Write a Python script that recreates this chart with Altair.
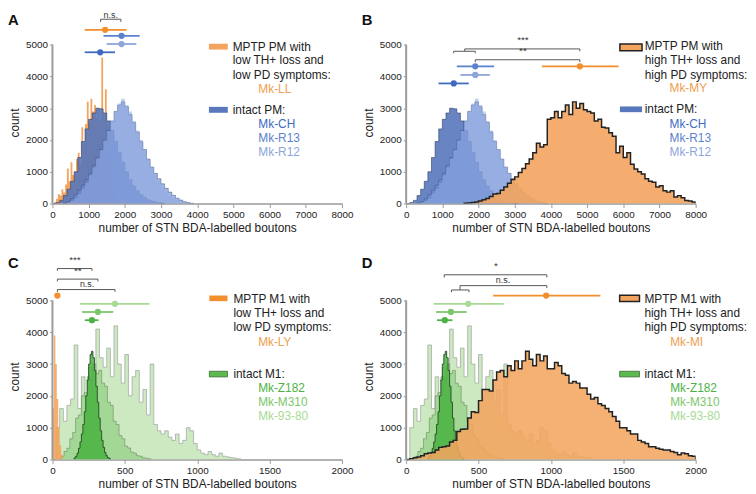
import altair as alt
import pandas as pd

FONT = "Liberation Sans"
XTITLE = "number of STN BDA-labelled boutons"

# ---------------- colours ----------------
ORANGE = "#F28E2B"
ORANGE_FILL = "#F3A45E"
ORANGE_TXT = "#F0A050"
CH_C, R13_C, R12_C = "#3E6BBF", "#5B82CC", "#8DA5DB"
Z182_C, M310_C, M9380_C = "#4DB346", "#7CC76C", "#A9DA95"

# ---------------- histogram data: bin start, bin width, counts ----------------
# intact PM animals (panels A and B)
CH_START, CH_W = 0, 100
CH_COUNTS = [0, 30, 100, 250, 450, 700, 1000, 1450, 1950, 2350, 2650, 2850, 3000, 2980, 2850,
             2600, 2300, 1950, 1600, 1300, 1000, 750, 550, 400, 280, 190, 120, 80, 50, 30, 15]
R13_START, R13_W = 300, 100
R13_COUNTS = [20, 60, 150, 280, 420, 580, 750, 950, 1200, 1450, 1700, 2000, 2300, 2600, 2900,
              3100, 3200, 3050, 2800, 2550, 2250, 1950, 1700, 1400, 1150, 950, 780, 620, 480,
              360, 260, 170, 110, 60, 30, 10]
R12_START, R12_W = 400, 100
R12_COUNTS = [30, 80, 170, 300, 460, 650, 880, 1130, 1400, 1680, 1980, 2280, 2580, 2850, 3150,
              3300, 3100, 2900, 2600, 2300, 2000, 1700, 1400, 1150, 900, 700, 520, 380, 270,
              180, 110, 60, 30, 10]
# Mk-LL (panel A)
LL_START, LL_W = 0, 50
LL_COUNTS = [0, 50, 150, 300, 250, 450, 350, 600, 1100, 700, 1300, 900, 1000, 1400, 1600, 1200,
             2400, 1900, 2500, 3200, 2600, 3300, 2900, 3100, 2700, 3000, 2600, 4600, 2800, 3600,
             2500, 2200, 1500, 800, 300]
# Mk-MY (panel B)
MY_START, MY_W = 1600, 100
MY_COUNTS = [10, 20, 30, 50, 80, 120, 160, 220, 300, 320, 420, 520, 640, 760, 840, 980, 1100,
             1250, 1400, 1600, 1900, 1780, 1850, 2650, 2700, 2900, 2700, 2900, 3100, 2800, 3200,
             3000, 3150, 2950, 2900, 2850, 2600, 2650, 2400, 2380, 2230, 2120, 1600, 1800, 1450,
             1600, 1240, 1090, 1000, 930, 780, 700, 670, 520, 560, 400, 360, 400, 210, 250, 180,
             100, 80, 50]
# intact M1 animals (panels C and D)
Z182_START, Z182_W = 150, 10
Z182_COUNTS = [50, 100, 200, 350, 550, 800, 1100, 1500, 2000, 2500, 3000, 3300, 3400, 3200, 2800,
               2300, 1800, 1300, 900, 600, 380, 220, 120, 60, 30]
M310_START, M310_W = 60, 20
M310_COUNTS = [100, 250, 350, 650, 850, 1300, 1400, 2000, 2100, 2600, 2500, 3000, 2700, 2800, 2400,
               2300, 1800, 1700, 1200, 1100, 750, 650, 420, 360, 230, 200, 120, 100, 50, 40, 20]
M9380_START, M9380_W = 0, 25
M9380_COUNTS = [0, 1000, 1600, 1200, 1700, 1900, 3600, 1600, 2600, 1900, 2900, 2200, 4100, 3200,
                2900, 3500, 2600, 4200, 3000, 2400, 3300, 2000, 2600, 2800, 1800, 2200, 1400, 3000,
                1100, 900, 800, 900, 700, 600, 800, 500, 600, 1000, 900, 500, 300, 200, 150, 250,
                150, 100, 200, 100, 80, 60, 40, 20]
# Mk-LY (panel C)
LY_START, LY_W = 0, 10
LY_COUNTS = [1600, 3900, 3000, 1900, 1000, 450, 150]
# Mk-MI (panel D)
MI_START, MI_W = 0, 25
MI_COUNTS = [0, 20, 50, 80, 120, 180, 200, 220, 300, 380, 400, 420, 550, 600, 880, 950, 960, 1300,
             1500, 1480, 1850, 2200, 2200, 2150, 2500, 2750, 2800, 2600, 2950, 2800, 3100, 2850,
             3100, 3400, 3150, 2950, 3300, 3100, 3250, 2850, 2850, 3050, 2950, 2700, 2650, 2400,
             2450, 2400, 2250, 2250, 2050, 1900, 1950, 1750, 1700, 1600, 1500, 1350, 1200, 1000,
             1000, 900, 800, 800, 600, 550, 500, 400, 400, 350, 320, 300, 300, 250, 220, 150, 200,
             180, 120, 100]

# ---------------- mean +/- SD summaries ----------------
A_NAMES = ["Mk-LL", "Mk-R13", "Mk-R12", "Mk-CH"]
A_MEAN = [1456, 1909, 1909, 1320]
A_LO = [892, 1410, 1500, 892]
A_HI = [2046, 2410, 2318, 1728]
A_ROW = [5466, 5280, 5020, 4760]
A_COL = [ORANGE, R13_C, R12_C, CH_C]

B_NAMES = ["Mk-MY", "Mk-R13", "Mk-R12", "Mk-CH"]
B_MEAN = [4800, 1910, 1910, 1316]
B_LO = [3750, 1400, 1500, 895]
B_HI = [5870, 2430, 2313, 1730]
B_ROW = [4317, 4317, 4047, 3780]
B_COL = [ORANGE, R13_C, R12_C, CH_C]

C_NAMES = ["Mk-LY", "Mk-93-80", "Mk-M310", "Mk-Z182"]
C_MEAN = [34, 432, 314, 273]
C_LO = [30, 189, 205, 223]
C_HI = [38, 670, 420, 318]
C_ROW = [5155, 4895, 4637, 4379]
C_COL = [ORANGE, M9380_C, M310_C, Z182_C]

D_NAMES = ["Mk-MI", "Mk-93-80", "Mk-M310", "Mk-Z182"]
D_MEAN = [967, 429, 309, 267]
D_LO = [601, 189, 206, 213]
D_HI = [1342, 674, 418, 320]
D_ROW = [5155, 4895, 4637, 4379]
D_COL = [ORANGE, M9380_C, M310_C, Z182_C]

# ---------------- significance brackets (segments x1,y1,x2,y2) ----------------
A_SEG = [(1330, 5800, 1890, 5800), (1330, 5715, 1330, 5800), (1890, 5715, 1890, 5800)]
A_SIG = [(1610, 5770, "n.s.", 9)]
B_SEG = [(1313, 4792, 1910, 4792), (1313, 4730, 1313, 4792), (1910, 4730, 1910, 4792),
         (1620, 4792, 1620, 4866), (1620, 4866, 4800, 4866), (4800, 4792, 4800, 4866),
         (1910, 4525, 4800, 4525), (1910, 4450, 1910, 4525), (4800, 4450, 4800, 4525)]
B_SIG = [(3227, 4980, "***", 10), (3227, 4640, "**", 10)]
C_SEG = [(34, 6003, 273, 6003), (34, 5932, 34, 6003), (273, 5932, 273, 6003),
         (34, 5671, 314, 5671), (34, 5600, 34, 5671), (314, 5600, 314, 5671),
         (34, 5342, 432, 5342), (34, 5270, 34, 5342), (432, 5270, 432, 5342)]
C_SIG = [(155, 6110, "***", 10), (175, 5785, "**", 10), (239, 5352, "n.s.", 9)]
D_SEG = [(263, 5807, 972, 5807), (263, 5723, 263, 5807), (972, 5723, 972, 5807),
         (313, 5330, 434, 5330), (313, 5258, 313, 5330), (434, 5258, 434, 5330),
         (372, 5330, 372, 5466), (372, 5466, 972, 5466), (972, 5390, 972, 5466)]
D_SIG = [(621, 5920, "*", 10), (669, 5478, "n.s.", 9)]


def step_area(start, width, counts):
    xs = [start + i * width for i in range(len(counts))] + [start + len(counts) * width]
    ys = list(counts) + [counts[-1]]
    return pd.DataFrame({"x": xs, "count": ys})


def step_outline(start, width, counts):
    xs, ys = [start], [0]
    for i, c in enumerate(counts):
        xs.append(start + i * width)
        ys.append(c)
    end = start + len(counts) * width
    xs += [end, end]
    ys += [counts[-1], 0]
    return pd.DataFrame({"x": xs, "count": ys, "i": list(range(len(xs)))})


def panel(letter, xmax, xticks, ymax, height, title_y, hists, summ, segs, sigs, legend, swatches):
    xs = alt.Scale(domain=[0, xmax], nice=False, zero=False)
    ysc = alt.Scale(domain=[0, ymax], nice=False)
    xaxis = alt.Axis(values=xticks, format="d", grid=False, labelFontSize=10, titleFontSize=12,
                     domainColor="#9a9a9a", domainWidth=1.5, tickColor="#9a9a9a", tickSize=4,
                     labelPadding=2, titlePadding=3, labelFlush=False, labelColor="#222",
                     titleColor="#222", titleFontWeight="normal")
    yaxis = alt.Axis(values=[0, 1000, 2000, 3000, 4000, 5000], format="d", grid=False,
                     domain=False, labelFontSize=10, titleFontSize=12, tickColor="#9a9a9a",
                     tickSize=3, labelPadding=2, labelColor="#222", titleColor="#222",
                     titleFontWeight="normal", titleX=-38, titleY=title_y,
                     titleBaseline="middle")

    def X(f):
        return alt.X(f, type="quantitative", scale=xs, axis=xaxis, title=XTITLE)

    def Y(f):
        return alt.Y(f, type="quantitative", scale=ysc, axis=yaxis, title="count")

    layers = []
    for (start, width, counts), fill, fop, lcol, lw in hists:
        layers.append(
            alt.Chart(step_area(start, width, counts))
            .mark_area(interpolate="step-after", color=fill, fillOpacity=fop, strokeWidth=0,
                       clip=True)
            .encode(x=X("x"), y=Y("count"))
        )
        if lcol:
            layers.append(
                alt.Chart(step_outline(start, width, counts))
                .mark_line(interpolate="step-after", color=lcol, strokeWidth=lw, clip=True)
                .encode(x=X("x"), y=Y("count"), order=alt.Order("i:Q"))
            )
    # y axis line (0-5000 only)
    layers.append(
        alt.Chart(pd.DataFrame({"x": [0], "y0": [0], "y1": [5000]}))
        .mark_rule(color="#9a9a9a", strokeWidth=2)
        .encode(x=X("x"), y=Y("y0"), y2="y1")
    )
    names, mean, lo, hi, row, col = summ
    sdf = pd.DataFrame({"name": names, "mean": mean, "lo": lo, "hi": hi, "row": row, "col": col})
    layers.append(
        alt.Chart(sdf).mark_rule(strokeWidth=1.8)
        .encode(x=X("lo"), x2="hi", y=Y("row"), color=alt.Color("col:N", scale=None))
    )
    layers.append(
        alt.Chart(sdf).mark_circle(size=40, opacity=1)
        .encode(x=X("mean"), y=Y("row"), color=alt.Color("col:N", scale=None))
    )
    segdf = pd.DataFrame(segs, columns=["x1", "y1", "x2", "y2"])
    layers.append(
        alt.Chart(segdf).mark_rule(color="#555", strokeWidth=1)
        .encode(x=X("x1"), y=Y("y1"), x2="x2", y2="y2")
    )
    for sx, sy, st, sz in sigs:
        layers.append(
            alt.Chart(pd.DataFrame({"x": [sx], "y": [sy], "t": [st]}))
            .mark_text(fontSize=sz, color="#333", baseline="bottom")
            .encode(x=X("x"), y=Y("y"), text="t:N")
        )
    for x1, x2, y1, y2, fill, stroke, sw in swatches:
        layers.append(
            alt.Chart(pd.DataFrame({"x1": [x1], "x2": [x2], "y1": [y1], "y2": [y2]}))
            .mark_rect(fill=fill, stroke=stroke, strokeWidth=sw)
            .encode(x=X("x1"), x2="x2", y=Y("y1"), y2="y2")
        )
    ldf = pd.DataFrame(legend, columns=["x", "y", "t", "col"])
    layers.append(
        alt.Chart(ldf).mark_text(align="left", baseline="middle", fontSize=12)
        .encode(x=X("x"), y=Y("y"), text="t:N", color=alt.Color("col:N", scale=None))
    )
    layers.append(
        alt.Chart(pd.DataFrame({"t": [letter]}))
        .mark_text(align="left", baseline="top", fontSize=15, fontWeight="bold", color="#111")
        .encode(text="t:N", x=alt.value(-45), y=alt.value(0))
    )
    return alt.layer(*layers).properties(width=293, height=height)


T = "#222"
CH_FILL, R13_FILL, R12_FILL = "#5877BD", "#6E8ED4", "#8EA8E0"
blue_hists = [
    ((CH_START, CH_W, CH_COUNTS), CH_FILL, 0.9, "#2F3F63", 0.6),
    ((R13_START, R13_W, R13_COUNTS), R13_FILL, 0.65, "#3F5583", 0.5),
    ((R12_START, R12_W, R12_COUNTS), R12_FILL, 0.55, None, 0),
]
green_hists = [
    ((M9380_START, M9380_W, M9380_COUNTS), "#BCE2AC", 0.75, "#A3ABA3", 0.8),
    ((M310_START, M310_W, M310_COUNTS), "#86CC78", 0.6, "#6A8A60", 0.6),
    ((Z182_START, Z182_W, Z182_COUNTS), "#49B141", 0.85, "#1C3A1A", 0.8),
]

A = panel(
    "A", 8000, list(range(0, 8001, 1000)), 6000, 193, 111,
    [((LL_START, LL_W, LL_COUNTS), ORANGE_FILL, 1.0, None, 0)] + blue_hists,
    (A_NAMES, A_MEAN, A_LO, A_HI, A_ROW, A_COL), A_SEG, A_SIG,
    [(4982, 4938, "MPTP PM with", T), (4982, 4503, "low TH+ loss and", T),
     (4982, 4059, "low PD symptoms:", T), (5690, 3602, "Mk-LL", ORANGE_TXT),
     (4982, 2950, "intact PM:", T), (5690, 2506, "Mk-CH", CH_C),
     (5690, 2071, "Mk-R13", R13_C), (5690, 1624, "Mk-R12", R12_C)],
    [(4324, 4846, 4845, 5030, ORANGE_FILL, ORANGE_FILL, 0),
     (4324, 4846, 2857, 3043, CH_FILL, CH_FILL, 0)],
)
B = panel(
    "B", 8000, list(range(0, 8001, 1000)), 6000, 193, 111,
    blue_hists + [((MY_START, MY_W, MY_COUNTS), ORANGE_FILL, 0.9, "#222", 1.5)],
    (B_NAMES, B_MEAN, B_LO, B_HI, B_ROW, B_COL), B_SEG, B_SIG,
    [(6593, 4969, "MPTP PM with", T), (6593, 4503, "high TH+ loss and", T),
     (6593, 4059, "high PD symptoms:", T), (7279, 3624, "Mk-MY", ORANGE_TXT),
     (6593, 2981, "intact PM:", T), (7279, 2506, "Mk-CH", CH_C),
     (7279, 2071, "Mk-R13", R13_C), (7279, 1624, "Mk-R12", R12_C)],
    [(5907, 6519, 4811, 5021, ORANGE_FILL, "#222", 1.5),
     (5907, 6519, 2876, 3056, CH_FILL, CH_FILL, 0)],
)
C = panel(
    "C", 2000, [0, 500, 1000, 1500, 2000], 6400, 206, 122,
    green_hists + [((LY_START, LY_W, LY_COUNTS), "#F5A055", 0.85, None, 0)],
    (C_NAMES, C_MEAN, C_LO, C_HI, C_ROW, C_COL), C_SEG, C_SIG,
    [(1250, 5050, "MPTP M1 with", T), (1250, 4606, "low TH+ loss and", T),
     (1250, 4171, "low PD symptoms:", T), (1421, 3705, "Mk-LY", ORANGE_TXT),
     (1250, 2689, "intact M1:", T), (1421, 2255, "Mk-Z182", Z182_C),
     (1421, 1811, "Mk-M310", M310_C), (1421, 1354, "Mk-93-80", M9380_C)],
    [(1084, 1209, 4978, 5155, ORANGE, ORANGE, 0),
     (1084, 1209, 2596, 2773, "#5DBA4F", "#3C6B35", 0.8)],
)
D = panel(
    "D", 2000, [0, 500, 1000, 1500, 2000], 6400, 206, 122,
    green_hists + [((MI_START, MI_W, MI_COUNTS), ORANGE_FILL, 0.87, "#222", 1.5)],
    (D_NAMES, D_MEAN, D_LO, D_HI, D_ROW, D_COL), D_SEG, D_SIG,
    [(1646, 5050, "MPTP M1 with", T), (1646, 4606, "high TH+ loss and", T),
     (1646, 4171, "high PD symptoms:", T), (1824, 3705, "Mk-MI", ORANGE_TXT),
     (1646, 2689, "intact M1:", T), (1824, 2255, "Mk-Z182", Z182_C),
     (1824, 1811, "Mk-M310", M310_C), (1824, 1354, "Mk-93-80", M9380_C)],
    [(1475, 1612, 4966, 5166, ORANGE_FILL, "#222", 1.5),
     (1475, 1612, 2596, 2773, "#5DBA4F", "#3C6B35", 0.8)],
)

chart = alt.vconcat(
    alt.hconcat(A, B, spacing=8),
    alt.hconcat(C, D, spacing=8),
    spacing=22,
).properties(
    padding={"left": 0, "top": 0, "right": 0, "bottom": 0}
).configure(font=FONT).configure_view(stroke=None)

chart.save("out.html", embed_options={"renderer": "svg", "actions": False})
